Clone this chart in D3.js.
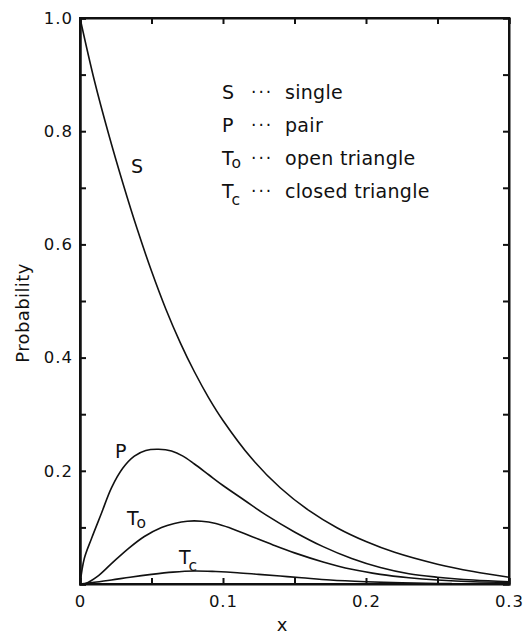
<!DOCTYPE html>
<html>
<head>
<meta charset="utf-8">
<script src="https://cdn.jsdelivr.net/npm/d3@7"></script>
<style>
  body { margin: 0; background: #fff; }
  svg text { font-family: "DejaVu Sans", "Liberation Sans", sans-serif; fill: #111; }
</style>
</head>
<body>
<svg id="chart" width="523" height="635"></svg>
<script>
// ---- data ----
const sX = [0, 0.01, 0.02, 0.03, 0.04, 0.05, 0.06, 0.07, 0.08, 0.09, 0.10, 0.12, 0.14, 0.16, 0.18, 0.20, 0.22, 0.25, 0.275, 0.30];
const sY = [1.0, 0.89, 0.795, 0.708, 0.627, 0.553, 0.486, 0.427, 0.375, 0.329, 0.289, 0.222, 0.170, 0.130, 0.099, 0.075, 0.056, 0.035, 0.022, 0.012];

const pX = [0, 0.003, 0.008, 0.015, 0.022, 0.03, 0.038, 0.046, 0.055, 0.064, 0.072, 0.08, 0.09, 0.10, 0.115, 0.13, 0.15, 0.17, 0.19, 0.21, 0.23, 0.25, 0.275, 0.30];
const pY = [0, 0.045, 0.08, 0.125, 0.17, 0.205, 0.226, 0.236, 0.238, 0.235, 0.226, 0.212, 0.193, 0.174, 0.148, 0.122, 0.092, 0.066, 0.045, 0.029, 0.018, 0.012, 0.007, 0.004];

const toX = [0, 0.004, 0.012, 0.022, 0.034, 0.045, 0.057, 0.066, 0.075, 0.085, 0.095, 0.105, 0.12, 0.135, 0.15, 0.17, 0.19, 0.21, 0.23, 0.25, 0.275, 0.30];
const toY = [0, 0.001, 0.013, 0.036, 0.063, 0.084, 0.100, 0.107, 0.111, 0.111, 0.107, 0.099, 0.084, 0.069, 0.055, 0.039, 0.026, 0.017, 0.011, 0.007, 0.004, 0.003];

const tcX = [0, 0.01, 0.022, 0.035, 0.05, 0.065, 0.08, 0.095, 0.11, 0.125, 0.14, 0.155, 0.175, 0.20, 0.225, 0.25, 0.26];
const tcY = [0, 0.003, 0.007, 0.012, 0.017, 0.021, 0.023, 0.022, 0.020, 0.017, 0.014, 0.011, 0.007, 0.004, 0.002, 0.001, 0.001];

const xTicks = [0, 0.05, 0.1, 0.15, 0.2, 0.25, 0.3];
const xTickLabels = {"0": "0", "0.1": "0.1", "0.2": "0.2", "0.3": "0.3"};
const yTicks = [0, 0.1, 0.2, 0.3, 0.4, 0.5, 0.6, 0.7, 0.8, 0.9, 1.0];
const yTickLabels = {"0.2": "0.2", "0.4": "0.4", "0.6": "0.6", "0.8": "0.8", "1": "1.0"};

const legendKeys = [["S", ""], ["P", ""], ["T", "o"], ["T", "c"]];
const legendNames = ["single", "pair", "open triangle", "closed triangle"];

// ---- layout ----
const svg = d3.select("#chart");
const mLeft = 80, mRight = 509, mTop = 18, mBottom = 584;
const x = d3.scaleLinear().domain([0, 0.3]).range([mLeft, mRight]);
const y = d3.scaleLinear().domain([0, 1.0]).range([mBottom, mTop]);

// frame
svg.append("rect").attr("x", mLeft).attr("y", mTop).attr("width", mRight - mLeft).attr("height", mBottom - mTop)
  .attr("fill", "none").attr("stroke", "#111").attr("stroke-width", 2);

const styleAxis = g => {
  g.select(".domain").attr("stroke", "#111").attr("stroke-width", 2);
  g.selectAll(".tick line").attr("stroke", "#111").attr("stroke-width", 2);
  g.selectAll(".tick text").style("font-size", "16.5px").style("letter-spacing", "1px").attr("fill", "#111");
};

svg.append("g").attr("transform", `translate(${mLeft},0)`)
  .call(d3.axisLeft(y).tickValues(yTicks).tickSize(-6).tickPadding(7)
    .tickFormat(d => yTickLabels[String(+d.toFixed(2))] || ""))
  .call(styleAxis)
  .call(g => g.select(".domain").attr("stroke-width", 2.5));

svg.append("g").attr("transform", `translate(${mRight},0)`)
  .call(d3.axisRight(y).tickValues(yTicks).tickSize(-6).tickFormat(() => ""))
  .call(styleAxis);

svg.append("g").attr("transform", `translate(0,${mBottom})`)
  .call(d3.axisBottom(x).tickValues(xTicks).tickSize(-6).tickPadding(11)
    .tickFormat(d => xTickLabels[String(+d.toFixed(2))] || ""))
  .call(styleAxis);

svg.append("g").attr("transform", `translate(0,${mTop})`)
  .call(d3.axisTop(x).tickValues(xTicks).tickSize(-6).tickFormat(() => ""))
  .call(styleAxis);

// axis titles
svg.append("text").attr("x", 282).attr("y", 631).attr("text-anchor", "middle")
  .style("font-size", "18px").text("x");
svg.append("text").attr("transform", "translate(29,313) rotate(-90)").attr("text-anchor", "middle")
  .style("font-size", "18px").style("letter-spacing", "0.4px").text("Probability");

// curves
const line = d3.line().x(d => x(d[0])).y(d => y(d[1])).curve(d3.curveCatmullRom.alpha(0.5));
const series = [[sX, sY], [pX, pY], [toX, toY], [tcX, tcY]];
series.forEach(([xs, ys]) => {
  svg.append("path").datum(xs.map((v, i) => [v, ys[i]]))
    .attr("d", line).attr("fill", "none").attr("stroke", "#111").attr("stroke-width", 1.6);
});

// curve labels
function keyLabel(px, py, main, sub, size) {
  const t = svg.append("text").attr("x", px).attr("y", py).style("font-size", size + "px");
  t.append("tspan").text(main);
  if (sub) t.append("tspan").attr("dx", -2).attr("dy", sub === "c" ? 7 : 3)
    .style("font-size", (size * 0.82) + "px").text(sub);
  return t;
}
keyLabel(131, 173, "S", "", 19);
keyLabel(115, 458, "P", "", 19);
keyLabel(127, 525, "T", "o", 19);
keyLabel(179, 564, "T", "c", 19);

// legend
const legY = [99, 132, 165, 198];
legendKeys.forEach((k, i) => {
  keyLabel(222, legY[i], k[0], k[1], 19);
  svg.append("text").attr("x", 251).attr("y", legY[i] - 1).style("font-size", "17px")
    .attr("letter-spacing", "2").text("···");
  svg.append("text").attr("x", 285).attr("y", legY[i]).style("font-size", "19px")
    .style("letter-spacing", "0.3px").text(legendNames[i]);
});
</script>
</body>
</html>
